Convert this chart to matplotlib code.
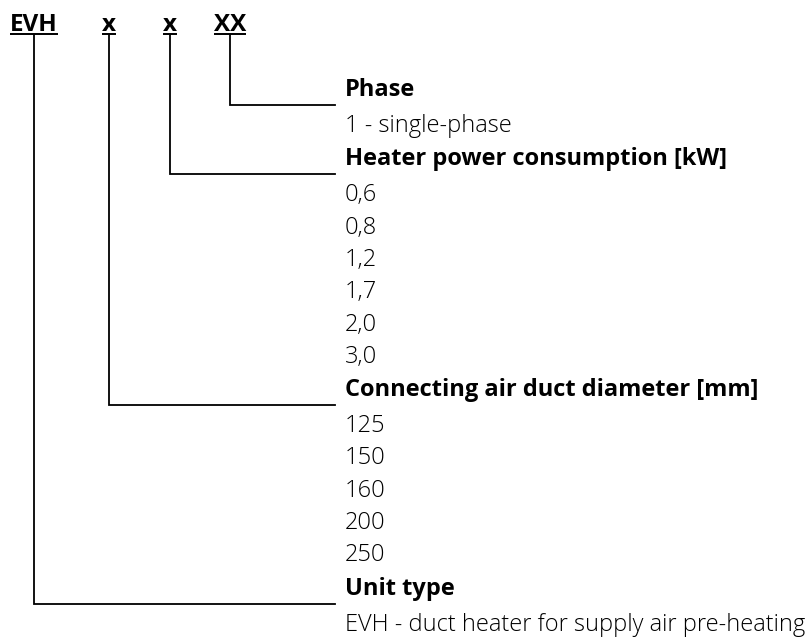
import matplotlib.pyplot as plt

# code letters on top and where their leader lines land
code_parts = ["EVH", "x", "x", "XX"]
code_x = [34, 109, 170, 230]

# blocks listed top to bottom: header, options, leader line row
blocks = [
    ("Phase", ["1 - single-phase"]),
    ("Heater power consumption [kW]", ["0,6", "0,8", "1,2", "1,7", "2,0", "3,0"]),
    ("Connecting air duct diameter [mm]", ["125", "150", "160", "200", "250"]),
    ("Unit type", ["EVH - duct heater for supply air pre-heating"]),
]
# which code letter feeds each block
block_part = [3, 2, 1, 0]

W, H = 807, 637
fig = plt.figure(figsize=(W / 100, H / 100), dpi=100)
ax = fig.add_axes([0, 0, 1, 1])
ax.set_xlim(0, W)
ax.set_ylim(H, 0)
ax.axis("off")

FONT = "Open Sans"
CODE_SIZE = 17.5
BOLD_SIZE = 17
REG_SIZE = 17
TEXT_X = 345
LINE_END = 335
TOP_Y = 35

# code row with underline
fig.canvas.draw()
renderer = fig.canvas.get_renderer()
inv = ax.transData.inverted()
for part, x in zip(code_parts, code_x):
    t = ax.text(x, 31, part, ha="center", va="baseline", fontsize=CODE_SIZE,
                fontweight="bold", family=FONT, color="black")
    bb = t.get_window_extent(renderer)
    (x0, _), (x1, _) = inv.transform([(bb.x0, 0), (bb.x1, 0)])
    ax.plot([x0, x1], [34, 34], color="black", lw=1.4, solid_capstyle="butt")

# headers and options
y = 96
for (header, options), part in zip(blocks, block_part):
    ax.text(TEXT_X, y, header, ha="left", va="baseline", fontsize=BOLD_SIZE,
            fontweight="bold", family=FONT, color="black")
    line_y = y + 9
    ax.plot([code_x[part], code_x[part], LINE_END], [TOP_Y, line_y, line_y],
            color="black", lw=1.3, solid_joinstyle="miter")
    y += 36
    for opt in options:
        ax.text(TEXT_X, y, opt, ha="left", va="baseline", fontsize=REG_SIZE,
                fontweight=300, family=FONT, color="black")
        y += 32.3
    y += 1

fig.savefig("out.png", dpi=100)
